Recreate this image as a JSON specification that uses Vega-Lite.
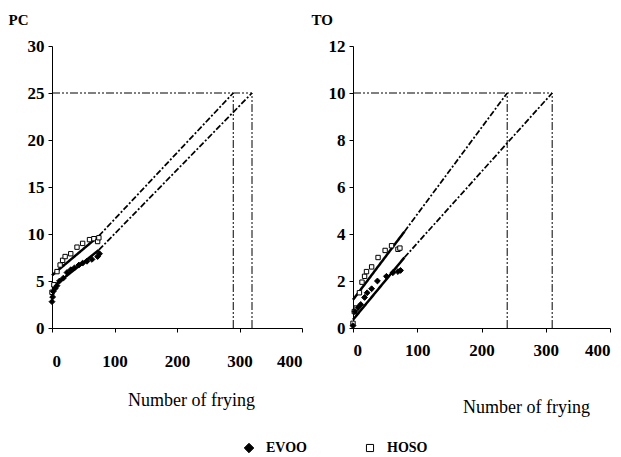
{
  "$schema": "https://vega.github.io/schema/vega-lite/v6.json",
  "background": "white",
  "padding": {"left": 8, "top": 12, "right": 5, "bottom": 5},
  "bounds": "flush",
  "spacing": 51,
  "config": {
    "view": {"stroke": null},
    "axis": {
      "grid": false,
      "domainColor": "black",
      "tickColor": "black",
      "labelColor": "black",
      "titleColor": "black",
      "labelFont": "Liberation Serif",
      "labelFontWeight": "bold",
      "labelFontSize": 17,
      "titleFont": "Liberation Serif",
      "tickSize": 4,
      "labelPadding": 4
    },
    "legend": {
      "labelFont": "Liberation Serif",
      "labelFontWeight": "bold",
      "labelFontSize": 14,
      "labelColor": "black"
    }
  },
  "datasets": {
    "points": [
      {"panel": "PC", "series": "HOSO", "x": 0, "y": 3.8},
      {"panel": "PC", "series": "HOSO", "x": 3, "y": 4.6},
      {"panel": "PC", "series": "HOSO", "x": 8, "y": 6.0},
      {"panel": "PC", "series": "HOSO", "x": 13, "y": 6.7},
      {"panel": "PC", "series": "HOSO", "x": 17, "y": 7.2},
      {"panel": "PC", "series": "HOSO", "x": 21, "y": 7.6},
      {"panel": "PC", "series": "HOSO", "x": 30, "y": 7.9},
      {"panel": "PC", "series": "HOSO", "x": 40, "y": 8.6},
      {"panel": "PC", "series": "HOSO", "x": 49, "y": 9.0},
      {"panel": "PC", "series": "HOSO", "x": 60, "y": 9.4},
      {"panel": "PC", "series": "HOSO", "x": 67, "y": 9.5},
      {"panel": "PC", "series": "HOSO", "x": 73, "y": 9.2},
      {"panel": "PC", "series": "HOSO", "x": 75, "y": 9.6},
      {"panel": "PC", "series": "EVOO", "x": 0, "y": 2.8},
      {"panel": "PC", "series": "EVOO", "x": 1, "y": 3.3},
      {"panel": "PC", "series": "EVOO", "x": 2, "y": 3.9},
      {"panel": "PC", "series": "EVOO", "x": 5, "y": 4.2},
      {"panel": "PC", "series": "EVOO", "x": 8, "y": 4.5},
      {"panel": "PC", "series": "EVOO", "x": 12, "y": 5.0},
      {"panel": "PC", "series": "EVOO", "x": 18, "y": 5.3},
      {"panel": "PC", "series": "EVOO", "x": 24, "y": 5.9},
      {"panel": "PC", "series": "EVOO", "x": 30, "y": 6.2},
      {"panel": "PC", "series": "EVOO", "x": 36, "y": 6.4},
      {"panel": "PC", "series": "EVOO", "x": 43, "y": 6.7},
      {"panel": "PC", "series": "EVOO", "x": 49, "y": 6.9},
      {"panel": "PC", "series": "EVOO", "x": 56, "y": 7.1},
      {"panel": "PC", "series": "EVOO", "x": 64, "y": 7.3},
      {"panel": "PC", "series": "EVOO", "x": 73, "y": 7.6},
      {"panel": "PC", "series": "EVOO", "x": 76, "y": 7.9},
      {"panel": "TO", "series": "HOSO", "x": 0, "y": 0.2},
      {"panel": "TO", "series": "HOSO", "x": 2, "y": 0.7},
      {"panel": "TO", "series": "HOSO", "x": 5, "y": 0.85},
      {"panel": "TO", "series": "HOSO", "x": 10, "y": 1.5},
      {"panel": "TO", "series": "HOSO", "x": 14, "y": 1.95},
      {"panel": "TO", "series": "HOSO", "x": 18, "y": 2.2},
      {"panel": "TO", "series": "HOSO", "x": 21, "y": 2.4},
      {"panel": "TO", "series": "HOSO", "x": 29, "y": 2.6},
      {"panel": "TO", "series": "HOSO", "x": 39, "y": 3.0},
      {"panel": "TO", "series": "HOSO", "x": 50, "y": 3.3},
      {"panel": "TO", "series": "HOSO", "x": 60, "y": 3.5},
      {"panel": "TO", "series": "HOSO", "x": 70, "y": 3.35},
      {"panel": "TO", "series": "HOSO", "x": 73, "y": 3.4},
      {"panel": "TO", "series": "EVOO", "x": 0, "y": 0.1},
      {"panel": "TO", "series": "EVOO", "x": 3, "y": 0.7},
      {"panel": "TO", "series": "EVOO", "x": 8, "y": 0.87},
      {"panel": "TO", "series": "EVOO", "x": 12, "y": 1.0},
      {"panel": "TO", "series": "EVOO", "x": 18, "y": 1.3},
      {"panel": "TO", "series": "EVOO", "x": 22, "y": 1.5},
      {"panel": "TO", "series": "EVOO", "x": 29, "y": 1.67},
      {"panel": "TO", "series": "EVOO", "x": 38, "y": 2.0},
      {"panel": "TO", "series": "EVOO", "x": 52, "y": 2.2},
      {"panel": "TO", "series": "EVOO", "x": 62, "y": 2.35},
      {"panel": "TO", "series": "EVOO", "x": 70, "y": 2.4},
      {"panel": "TO", "series": "EVOO", "x": 74, "y": 2.45}
    ],
    "lines": [
      {"panel": "PC", "style": "solid", "x": 0, "y": 5.6, "x2": 75, "y2": 9.8},
      {"panel": "PC", "style": "dash", "x": 75, "y": 9.8, "x2": 290, "y2": 25},
      {"panel": "PC", "style": "solid", "x": 0, "y": 4.3, "x2": 75, "y2": 8.3},
      {"panel": "PC", "style": "dash", "x": 75, "y": 8.3, "x2": 320, "y2": 25},
      {"panel": "PC", "style": "guide", "x": 0, "y": 25, "x2": 320, "y2": 25},
      {"panel": "PC", "style": "guide", "x": 290, "y": 0, "x2": 290, "y2": 25},
      {"panel": "PC", "style": "guide", "x": 320, "y": 0, "x2": 320, "y2": 25},
      {"panel": "TO", "style": "solid", "x": 0, "y": 1.2, "x2": 80, "y2": 4.1},
      {"panel": "TO", "style": "dash", "x": 80, "y": 4.1, "x2": 240, "y2": 10},
      {"panel": "TO", "style": "solid", "x": 0, "y": 0.35, "x2": 80, "y2": 3.0},
      {"panel": "TO", "style": "dash", "x": 80, "y": 3.0, "x2": 310, "y2": 10},
      {"panel": "TO", "style": "guide", "x": 0, "y": 10, "x2": 310, "y2": 10},
      {"panel": "TO", "style": "guide", "x": 240, "y": 0, "x2": 240, "y2": 10},
      {"panel": "TO", "style": "guide", "x": 310, "y": 0, "x2": 310, "y2": 10}
    ]
  },
  "hconcat": [
    {
      "width": 250,
      "height": 282,
      "layer": [
        {
          "data": {"name": "lines"},
          "transform": [{"filter": "datum.panel === 'PC'"}],
          "mark": {"type": "rule", "color": "black"},
          "encoding": {
            "x": {"field": "x", "type": "quantitative", "scale": {"domain": [0, 400]},
              "axis": {"values": [0, 100, 200, 300, 400], "labelPadding": 21, "title": "Number of frying", "titleFontSize": 18, "titleFontWeight": "normal", "titleX": 139, "titleY": 77, "titleBaseline": "alphabetic", "titleAnchor": "middle"}},
            "y": {"field": "y", "type": "quantitative", "scale": {"domain": [0, 30]},
              "axis": {"values": [0, 5, 10, 15, 20, 25, 30], "title": "PC", "titleAngle": 0, "titleFontSize": 15, "titleFontWeight": "bold", "titleAlign": "left", "titleBaseline": "alphabetic", "titleX": -44, "titleY": -22}},
            "x2": {"field": "x2"},
            "y2": {"field": "y2"},
            "strokeDash": {"field": "style", "type": "nominal", "legend": null,
              "scale": {"domain": ["solid", "dash", "guide"], "range": [[1, 0], [6, 2, 2, 2], [8, 2, 2, 2, 2, 2]]}},
            "strokeWidth": {"field": "style", "type": "nominal", "legend": null,
              "scale": {"domain": ["solid", "dash", "guide"], "range": [2.5, 1, 1]}}
          }
        },
        {
          "data": {"name": "points"},
          "transform": [{"filter": "datum.panel === 'PC'"}],
          "mark": {"type": "point", "strokeWidth": 1, "opacity": 1},
          "encoding": {
            "x": {"field": "x", "type": "quantitative"},
            "y": {"field": "y", "type": "quantitative"},
            "shape": {"field": "series", "type": "nominal", "title": null,
              "scale": {"domain": ["EVOO", "HOSO"], "range": ["diamond", "M-0.75,-0.75H0.75V0.75H-0.75Z"]},
              "legend": {"orient": "none", "direction": "horizontal", "legendX": 190, "legendY": 395, "symbolSize": 90, "symbolStrokeWidth": 1, "labelOffset": 10, "columnPadding": 56}},
            "fill": {"field": "series", "type": "nominal", "title": null,
              "scale": {"domain": ["EVOO", "HOSO"], "range": ["black", "white"]},
              "legend": {"orient": "none", "direction": "horizontal", "legendX": 190, "legendY": 395, "symbolSize": 90, "symbolStrokeWidth": 1, "labelOffset": 10, "columnPadding": 56}},
            "stroke": {"field": "series", "type": "nominal", "title": null,
              "scale": {"domain": ["EVOO", "HOSO"], "range": ["black", "black"]},
              "legend": {"orient": "none", "direction": "horizontal", "legendX": 190, "legendY": 395, "symbolSize": 90, "symbolStrokeWidth": 1, "labelOffset": 10, "columnPadding": 56}},
            "size": {"value": 34}
          }
        }
      ]
    },
    {
      "width": 257,
      "height": 282,
      "layer": [
        {
          "data": {"name": "lines"},
          "transform": [{"filter": "datum.panel === 'TO'"}],
          "mark": {"type": "rule", "color": "black"},
          "encoding": {
            "x": {"field": "x", "type": "quantitative", "scale": {"domain": [0, 400]},
              "axis": {"values": [0, 100, 200, 300, 400], "labelPadding": 10, "title": "Number of frying", "titleFontSize": 18, "titleFontWeight": "normal", "titleX": 173, "titleY": 84, "titleBaseline": "alphabetic", "titleAnchor": "middle"}},
            "y": {"field": "y", "type": "quantitative", "scale": {"domain": [0, 12]},
              "axis": {"values": [0, 2, 4, 6, 8, 10, 12], "title": "TO", "titleAngle": 0, "titleFontSize": 15, "titleFontWeight": "bold", "titleAlign": "left", "titleBaseline": "alphabetic", "titleX": -42, "titleY": -22}},
            "x2": {"field": "x2"},
            "y2": {"field": "y2"},
            "strokeDash": {"field": "style", "type": "nominal", "legend": null,
              "scale": {"domain": ["solid", "dash", "guide"], "range": [[1, 0], [6, 2, 2, 2], [8, 2, 2, 2, 2, 2]]}},
            "strokeWidth": {"field": "style", "type": "nominal", "legend": null,
              "scale": {"domain": ["solid", "dash", "guide"], "range": [2.5, 1, 1]}}
          }
        },
        {
          "data": {"name": "points"},
          "transform": [{"filter": "datum.panel === 'TO'"}],
          "mark": {"type": "point", "strokeWidth": 1, "opacity": 1},
          "encoding": {
            "x": {"field": "x", "type": "quantitative"},
            "y": {"field": "y", "type": "quantitative"},
            "shape": {"field": "series", "type": "nominal", "title": null,
              "scale": {"domain": ["EVOO", "HOSO"], "range": ["diamond", "M-0.75,-0.75H0.75V0.75H-0.75Z"]}},
            "fill": {"field": "series", "type": "nominal", "title": null,
              "scale": {"domain": ["EVOO", "HOSO"], "range": ["black", "white"]}},
            "stroke": {"field": "series", "type": "nominal", "title": null,
              "scale": {"domain": ["EVOO", "HOSO"], "range": ["black", "black"]}},
            "size": {"value": 34}
          }
        }
      ]
    }
  ],
  "resolve": {"scale": {"x": "independent", "y": "independent"}}
}
